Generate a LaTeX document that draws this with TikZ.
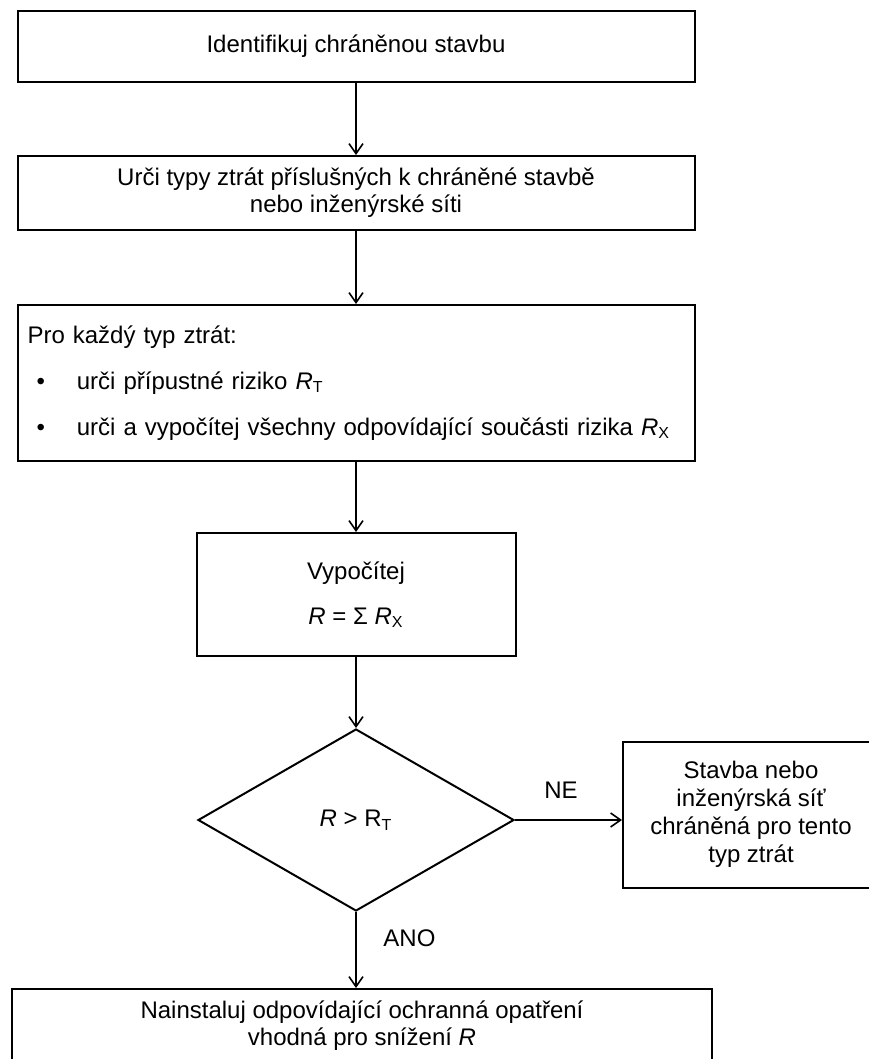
\documentclass[tikz,border=0pt]{standalone}
\usepackage{fontspec}
\setmainfont{Liberation Sans}
\usetikzlibrary{positioning}
\usetikzlibrary{shapes.geometric}
\usetikzlibrary{arrows.meta}

\begin{document}
\begin{tikzpicture}[>={Straight Barb[length=5pt,width=7pt]}]
		\tikzstyle{elem} = [rectangle, draw=black, line width=1pt, inner sep=0pt, align=center, font=\fontsize{12}{13.5}\selectfont]
		\tikzstyle{decision} = [diamond, draw=black, line width=1pt, inner sep=0pt, minimum width=158pt, minimum height=91pt, font=\fontsize{12}{14}\selectfont]
		\tikzstyle{conn} = [->, line width=0.8pt]

		\useasboundingbox (0pt,0pt) rectangle (434pt,-529.5pt);

		\node (identifyStructure) [elem, minimum width=338.5pt, minimum height=35.5pt] at (178pt,-23.25pt) {Identifikuj chráněnou stavbu};
		\node (lossTypes) [elem, minimum width=338.5pt, minimum height=37pt, below=36pt of identifyStructure] {Urči typy ztrát příslušných k chráněné stavbě\\nebo inženýrské síti};
		\node (riskComponents) [elem, minimum width=338.5pt, minimum height=78pt, below=36.5pt of lossTypes, align=left, text width=328.5pt, inner xsep=5pt, font=\fontsize{12}{23}\selectfont] {Pro každý typ ztrát:\\
			\hspace*{4.5pt}•\hspace{16pt}urči přípustné riziko \textit{R}\textsubscript{T}\\
			\hspace*{4.5pt}•\hspace{16pt}urči a vypočítej všechny odpovídající součásti rizika \textit{R}\textsubscript{X}};
		\node (computeRisk) [elem, minimum width=159.5pt, minimum height=61.5pt, below=35pt of riskComponents, font=\fontsize{12}{22.5}\selectfont] {Vypočítej\\\textit{R} = Σ \textit{R}\textsubscript{X}};
		\node (riskDecision) [decision, below=35.5pt of computeRisk] {\textit{R} > R\textsubscript{T}};
		\node (protectedStructure) [elem, minimum width=150pt, minimum height=73pt, right=53.5pt of riskDecision, yshift=2.5pt, font=\fontsize{12}{14}\selectfont] {\begin{tabular}{@{}c@{}}Stavba nebo\\inženýrská síť\\chráněná pro tento\\typ ztrát\end{tabular}\hspace*{22pt}};
		\node (installMeasures) [elem, minimum width=350pt, minimum height=37pt, below=38pt of riskDecision, xshift=3pt] {Nainstaluj odpovídající ochranná opatření\\vhodná pro snížení \textit{R}};

		\draw [conn] (identifyStructure) -- (lossTypes);
		\draw [conn] (lossTypes) -- (riskComponents);
		\draw [conn] (riskComponents) -- (computeRisk);
		\draw [conn] (computeRisk) -- (riskDecision);
		\draw [conn] (riskDecision.east) -- (riskDecision.east -| protectedStructure.west) node [above=7pt, pos=0.43, font=\fontsize{12}{14}\selectfont] {NE};
		\draw [conn] (riskDecision.south) -- (riskDecision.south |- installMeasures.north) node [right=10pt, pos=0.35, font=\fontsize{12}{14}\selectfont] {ANO};
	\end{tikzpicture}
\end{document}
